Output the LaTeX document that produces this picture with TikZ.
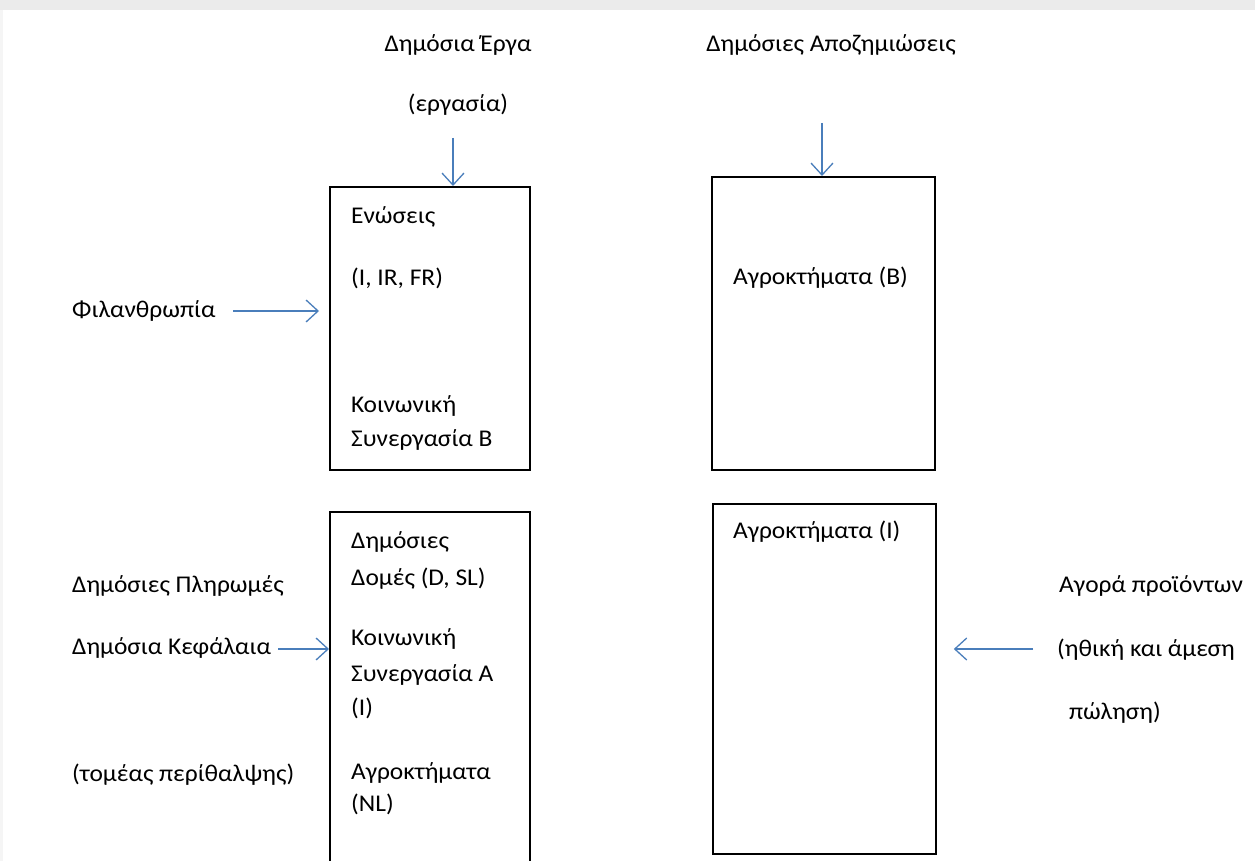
\documentclass[tikz,border=0pt]{standalone}
\usepackage{fontspec}
\setmainfont{Carlito}[FakeStretch=1.06]
\usetikzlibrary{arrows.meta}
\definecolor{arrowblue}{HTML}{4A7EBB}
\begin{document}
\begin{tikzpicture}[x=1pt,y=-1pt,
  txt/.style={anchor=base west, inner sep=0pt, font=\fontsize{24}{28}\selectfont},
  ctxt/.style={anchor=base, inner sep=0pt, font=\fontsize{24}{28}\selectfont},
  box/.style={draw=black, line width=1.8pt, inner sep=0pt, anchor=north west},
  flow/.style={draw=arrowblue, line width=1.3pt, -{Straight Barb[length=12pt,width=22pt]}}]
\useasboundingbox (0,0) rectangle (1255,861);
\fill[white] (0,0) rectangle (1255,861);
\fill[black!8] (0,0) rectangle (1255,10);
\fill[black!4] (0,10) rectangle (3,861);

% boxes
\node[box, minimum width=200pt, minimum height=283pt] (b1) at (329,186) {};
\node[box, minimum width=223pt, minimum height=293pt] (b2) at (711,176) {};
\node[box, minimum width=200pt, minimum height=370pt] (b3) at (329,511) {};
\node[box, minimum width=223pt, minimum height=350pt] (b4) at (712,503) {};

% top labels
\node[ctxt] (works) at (458,52) {Δημόσια Έργα};
\node[ctxt] (labour) at (458,112) {(εργασία)};
\node[ctxt] (comp) at (831,52) {Δημόσιες Αποζημιώσεις};

% left labels
\node[txt] (phil) at (72,317) {Φιλανθρωπία};
\node[txt] (pay) at (72,592) {Δημόσιες Πληρωμές};
\node[txt] (funds) at (72,654) {Δημόσια Κεφάλαια};
\node[txt] (care) at (72,781) {(τομέας περίθαλψης)};

% right labels
\node[txt] (mkt1) at (1059,592) {Αγορά προϊόντων};
\node[txt] (mkt2) at (1057,656) {(ηθική και άμεση};
\node[txt] (mkt3) at (1069,719) {πώληση)};

% box 1 text
\node[txt] (t11) at (351,223) {Ενώσεις};
\node[txt] (t12) at (351,285) {(I, IR, FR)};
\node[txt] (t13) at (351,412) {Κοινωνική};
\node[txt] (t14) at (351,446) {Συνεργασία Β};

% box 2 text
\node[txt] (t21) at (733,284) {Αγροκτήματα (Β)};

% box 3 text
\node[txt] (t31) at (351,548) {Δημόσιες};
\node[txt] (t32) at (351,585) {Δομές (D, SL)};
\node[txt] (t33) at (351,645) {Κοινωνική};
\node[txt] (t34) at (351,681) {Συνεργασία Α};
\node[txt] (t35) at (351,715) {(I)};
\node[txt] (t36) at (351,779) {Αγροκτήματα};
\node[txt] (t37) at (351,811) {(NL)};

% box 4 text
\node[txt] (t41) at (733,538) {Αγροκτήματα (I)};

% arrows
\coordinate (a1) at (453,138);
\coordinate (a2) at (822,123);
\coordinate (a3) at (233,311);
\coordinate (a4) at (278,649);
\coordinate (a5) at (1033,649);
\draw[flow] (a1) -- (a1 |- b1.north);
\draw[flow] (a2) -- (a2 |- b2.north);
\draw[flow] (a3) -- ([xshift=-10pt]a3 -| b1.west);
\draw[flow] (a4) -- (a4 -| b3.west);
\draw[flow] (a5) -- ([xshift=17pt]a5 -| b4.east);
\end{tikzpicture}
\end{document}
